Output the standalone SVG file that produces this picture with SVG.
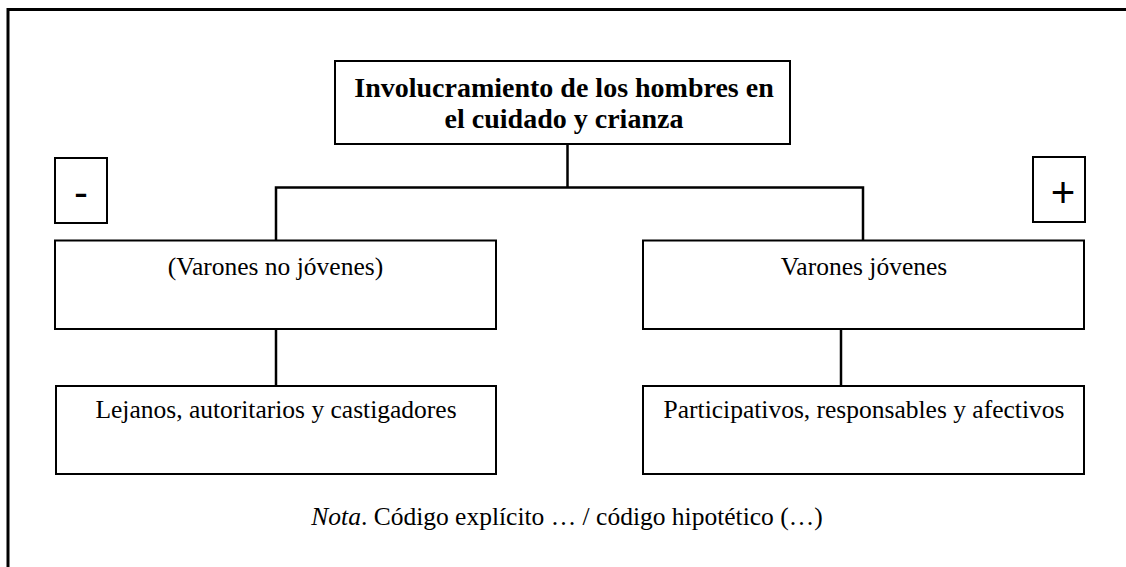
<svg xmlns="http://www.w3.org/2000/svg" width="1126" height="567" viewBox="0 0 1126 567">
<style>
.box{fill:#fff;stroke:#000;stroke-width:2}
.t{font-family:"Liberation Serif","Times New Roman",serif;font-size:25.5px;fill:#000;text-anchor:middle}
.b{font-weight:bold;font-size:28px}
.s{font-family:"Liberation Sans",Arial,sans-serif;font-size:42px;fill:#000;text-anchor:middle}
.ln{stroke:#000;stroke-width:2.5;fill:none}
</style>
<rect width="1126" height="567" fill="#fff"/>
<path d="M8,567 V9.5 H1126" fill="none" stroke="#000" stroke-width="3"/>
<g id="connectors">
<path class="ln" d="M567.5,144 V187.5"/>
<path class="ln" d="M276,240 V187.5 H863 V240"/>
<path class="ln" d="M276,329 V386"/>
<path class="ln" d="M841,329 V386"/>
</g>
<g id="root">
<rect class="box" x="335" y="61" width="455" height="83"/>
<text class="t b" x="564" y="97">Involucramiento de los hombres en</text>
<text class="t b" x="564" y="128">el cuidado y crianza</text>
</g>
<g id="minus">
<rect class="box" x="55" y="158" width="52" height="65"/>
<text class="s" x="81" y="207">-</text>
</g>
<g id="plus">
<rect class="box" x="1033" y="157" width="52" height="65"/>
<text class="s" x="1063" y="207">+</text>
</g>
<g id="left-top">
<rect class="box" x="55" y="240.5" width="441" height="88.5"/>
<text class="t" x="275.5" y="275">(Varones no jóvenes)</text>
</g>
<g id="right-top">
<rect class="box" x="643" y="240.5" width="441" height="88.5"/>
<text class="t" x="864" y="275">Varones jóvenes</text>
</g>
<g id="left-bottom">
<rect class="box" x="56" y="386" width="440" height="88"/>
<text class="t" x="276" y="418">Lejanos, autoritarios y castigadores</text>
</g>
<g id="right-bottom">
<rect class="box" x="643" y="386" width="441" height="88"/>
<text class="t" x="864" y="418">Participativos, responsables y afectivos</text>
</g>
<g id="note">
<text class="t" x="567" y="525"><tspan font-style="italic">Nota</tspan>. Código explícito … / código hipotético (…)</text>
</g>
</svg>
